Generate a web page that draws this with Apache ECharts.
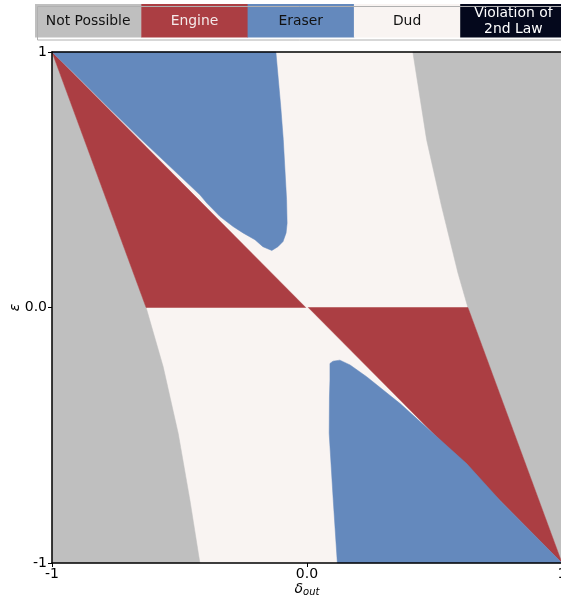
<!DOCTYPE html>
<html>
<head>
<meta charset="utf-8">
<script src="https://cdn.jsdelivr.net/npm/echarts@6/dist/echarts.min.js"></script>
<style>
html,body{margin:0;padding:0;background:#fff;}
#chart{width:561px;height:597px;}
</style>
</head>
<body>
<div id="chart"></div>
<script>
// ---- data ----
const categories = ['Not Possible', 'Engine', 'Eraser', 'Dud', 'Violation of\n2nd Law'];
const xTickValues = [-1, 0, 1];
const xTickLabels = ['-1', '0.0', '1'];
const yTickValues = [-1, 0, 1];
const yTickLabels = ['-1', '0.0', '1'];

// region outlines as [delta_out, epsilon] vertices
const dudRegion = [[-1, -1], [1, -1], [1, 1], [-1, 1]];
const notPossibleLeft = [[-1, 1], [-0.631, 0], [-0.564, -0.232], [-0.505, -0.493], [-0.459, -0.755], [-0.420, -1], [-1, -1]];
const notPossibleRight = [[0.415, 1], [0.469, 0.657], [0.528, 0.395], [0.592, 0.135], [0.631, 0], [1, -1], [1, 1]];
const engineUpper = [[-1, 1], [-0.631, 0], [-0.005, 0]];
const engineLower = [[0.005, 0], [0.631, 0], [1, -1]];
const eraserUpper = [[-1, 1], [-0.122, 1], [-0.103, 0.787], [-0.093, 0.657], [-0.080, 0.422], [-0.078, 0.330], [-0.082, 0.292],
  [-0.094, 0.258], [-0.114, 0.238], [-0.138, 0.223], [-0.173, 0.238], [-0.204, 0.265], [-0.251, 0.292], [-0.290, 0.317],
  [-0.341, 0.356], [-0.393, 0.409], [-0.420, 0.441], [-0.524, 0.539], [-0.655, 0.662], [-0.786, 0.790], [-0.918, 0.921]];
const eraserLower = [[0.119, -1], [0.103, -0.755], [0.087, -0.493], [0.088, -0.350], [0.090, -0.284], [0.090, -0.219],
  [0.102, -0.210], [0.129, -0.206], [0.169, -0.225], [0.234, -0.271], [0.365, -0.376], [0.494, -0.492], [0.626, -0.611],
  [0.757, -0.755], [1, -1]];

// ---- styles ----
const COLORS = {
  'Not Possible': '#bfbfbf',
  'Engine': '#ab3e43',
  'Eraser': '#6489bd',
  'Dud': '#f9f4f2',
  'Violation of\n2nd Law': '#04081c'
};
const TEXT_COLORS = ['#111', '#f4eaea', '#111', '#111', '#ffffff'];
const FONT = 'DejaVu Sans';

function polygonSeries(name, pts, color) {
  return {
    type: 'custom',
    name: name,
    coordinateSystem: 'cartesian2d',
    data: pts,
    encode: { x: 0, y: 1 },
    silent: true,
    renderItem: function (params, api) {
      if (params.dataIndex !== 0) return null;
      const points = pts.map(p => api.coord(p));
      return {
        type: 'polygon',
        shape: { points: points },
        style: { fill: color, stroke: color, lineWidth: 0.5 }
      };
    }
  };
}

const chart = echarts.init(document.getElementById('chart'), null, { renderer: 'canvas' });

// legend drawn as boxes with text inside
const legendLeft = 35, legendTop = 4, boxW = 106.3, boxH = 33.5;
const legendGraphics = [];
categories.forEach((c, i) => {
  legendGraphics.push({
    type: 'rect', left: legendLeft + i * boxW, top: legendTop,
    shape: { width: boxW + 0.5, height: boxH },
    style: { fill: COLORS[c] }, z: 10
  });
  legendGraphics.push({
    type: 'text', x: legendLeft + i * boxW + boxW / 2, y: legendTop + boxH / 2 + 0.5,
    style: {
      text: c, fill: TEXT_COLORS[i], font: '13.9px "' + FONT + '"',
      textAlign: 'center', textVerticalAlign: 'middle', lineHeight: 16
    }, z: 11
  });
});
legendGraphics.push({
  type: 'rect', left: legendLeft, top: legendTop,
  shape: { width: boxW * 5 + 2, height: boxH },
  style: { fill: 'none', stroke: '#b0b0b0', lineWidth: 1 }, z: 12
});

function fmt(values, labels) {
  return function (v) {
    for (let i = 0; i < values.length; i++) if (Math.abs(v - values[i]) < 1e-9) return labels[i];
    return '';
  };
}

const axisCommon = {
  type: 'value', min: -1, max: 1, interval: 1, z: 10,
  splitLine: { show: false },
  axisLine: { show: true, onZero: false, lineStyle: { color: '#000', width: 1.5 } },
  axisTick: { show: true, length: 4, lineStyle: { color: '#000', width: 1 } },
};

const option = {
  backgroundColor: '#ffffff',
  animation: false,
  graphic: legendGraphics,
  grid: { left: 52, top: 52, width: 510, height: 511, containLabel: false, outerBoundsMode: 'none' },
  xAxis: [
    Object.assign({}, axisCommon, {
      position: 'bottom',
      axisLabel: { formatter: fmt(xTickValues, xTickLabels), color: '#000', fontFamily: FONT, fontSize: 14, margin: 4 },
      name: '{d|δ}{s|out}', nameLocation: 'middle', nameGap: 18, nameMoveOverlap: false,
      nameTextStyle: {
        fontFamily: FONT, color: '#000', verticalAlign: 'top',
        rich: {
          d: { fontSize: 14, fontStyle: 'italic', fontFamily: FONT, color: '#000', lineHeight: 16 },
          s: { fontSize: 10, fontStyle: 'italic', fontFamily: FONT, color: '#000', lineHeight: 16, padding: [6, 0, 0, 0] }
        }
      }
    }),
    Object.assign({}, axisCommon, {
      position: 'top', axisTick: { show: false }, axisLabel: { show: false }
    })
  ],
  yAxis: [
    Object.assign({}, axisCommon, {
      position: 'left',
      axisLabel: { formatter: fmt(yTickValues, yTickLabels), color: '#000', fontFamily: FONT, fontSize: 14, margin: 5 },
      name: 'ε', nameLocation: 'middle', nameGap: 30, nameRotate: 90, nameMoveOverlap: false,
      nameTextStyle: { fontFamily: FONT, fontSize: 14, fontStyle: 'italic', color: '#000' }
    }),
    Object.assign({}, axisCommon, {
      position: 'right', axisTick: { show: false }, axisLabel: { show: false }
    })
  ],
  series: [
    polygonSeries('Dud', dudRegion, COLORS['Dud']),
    polygonSeries('Not Possible', notPossibleLeft, COLORS['Not Possible']),
    polygonSeries('Not Possible', notPossibleRight, COLORS['Not Possible']),
    polygonSeries('Engine', engineUpper, COLORS['Engine']),
    polygonSeries('Engine', engineLower, COLORS['Engine']),
    polygonSeries('Eraser', eraserUpper, COLORS['Eraser']),
    polygonSeries('Eraser', eraserLower, COLORS['Eraser'])
  ]
};
chart.setOption(option);
</script>
</body>
</html>
